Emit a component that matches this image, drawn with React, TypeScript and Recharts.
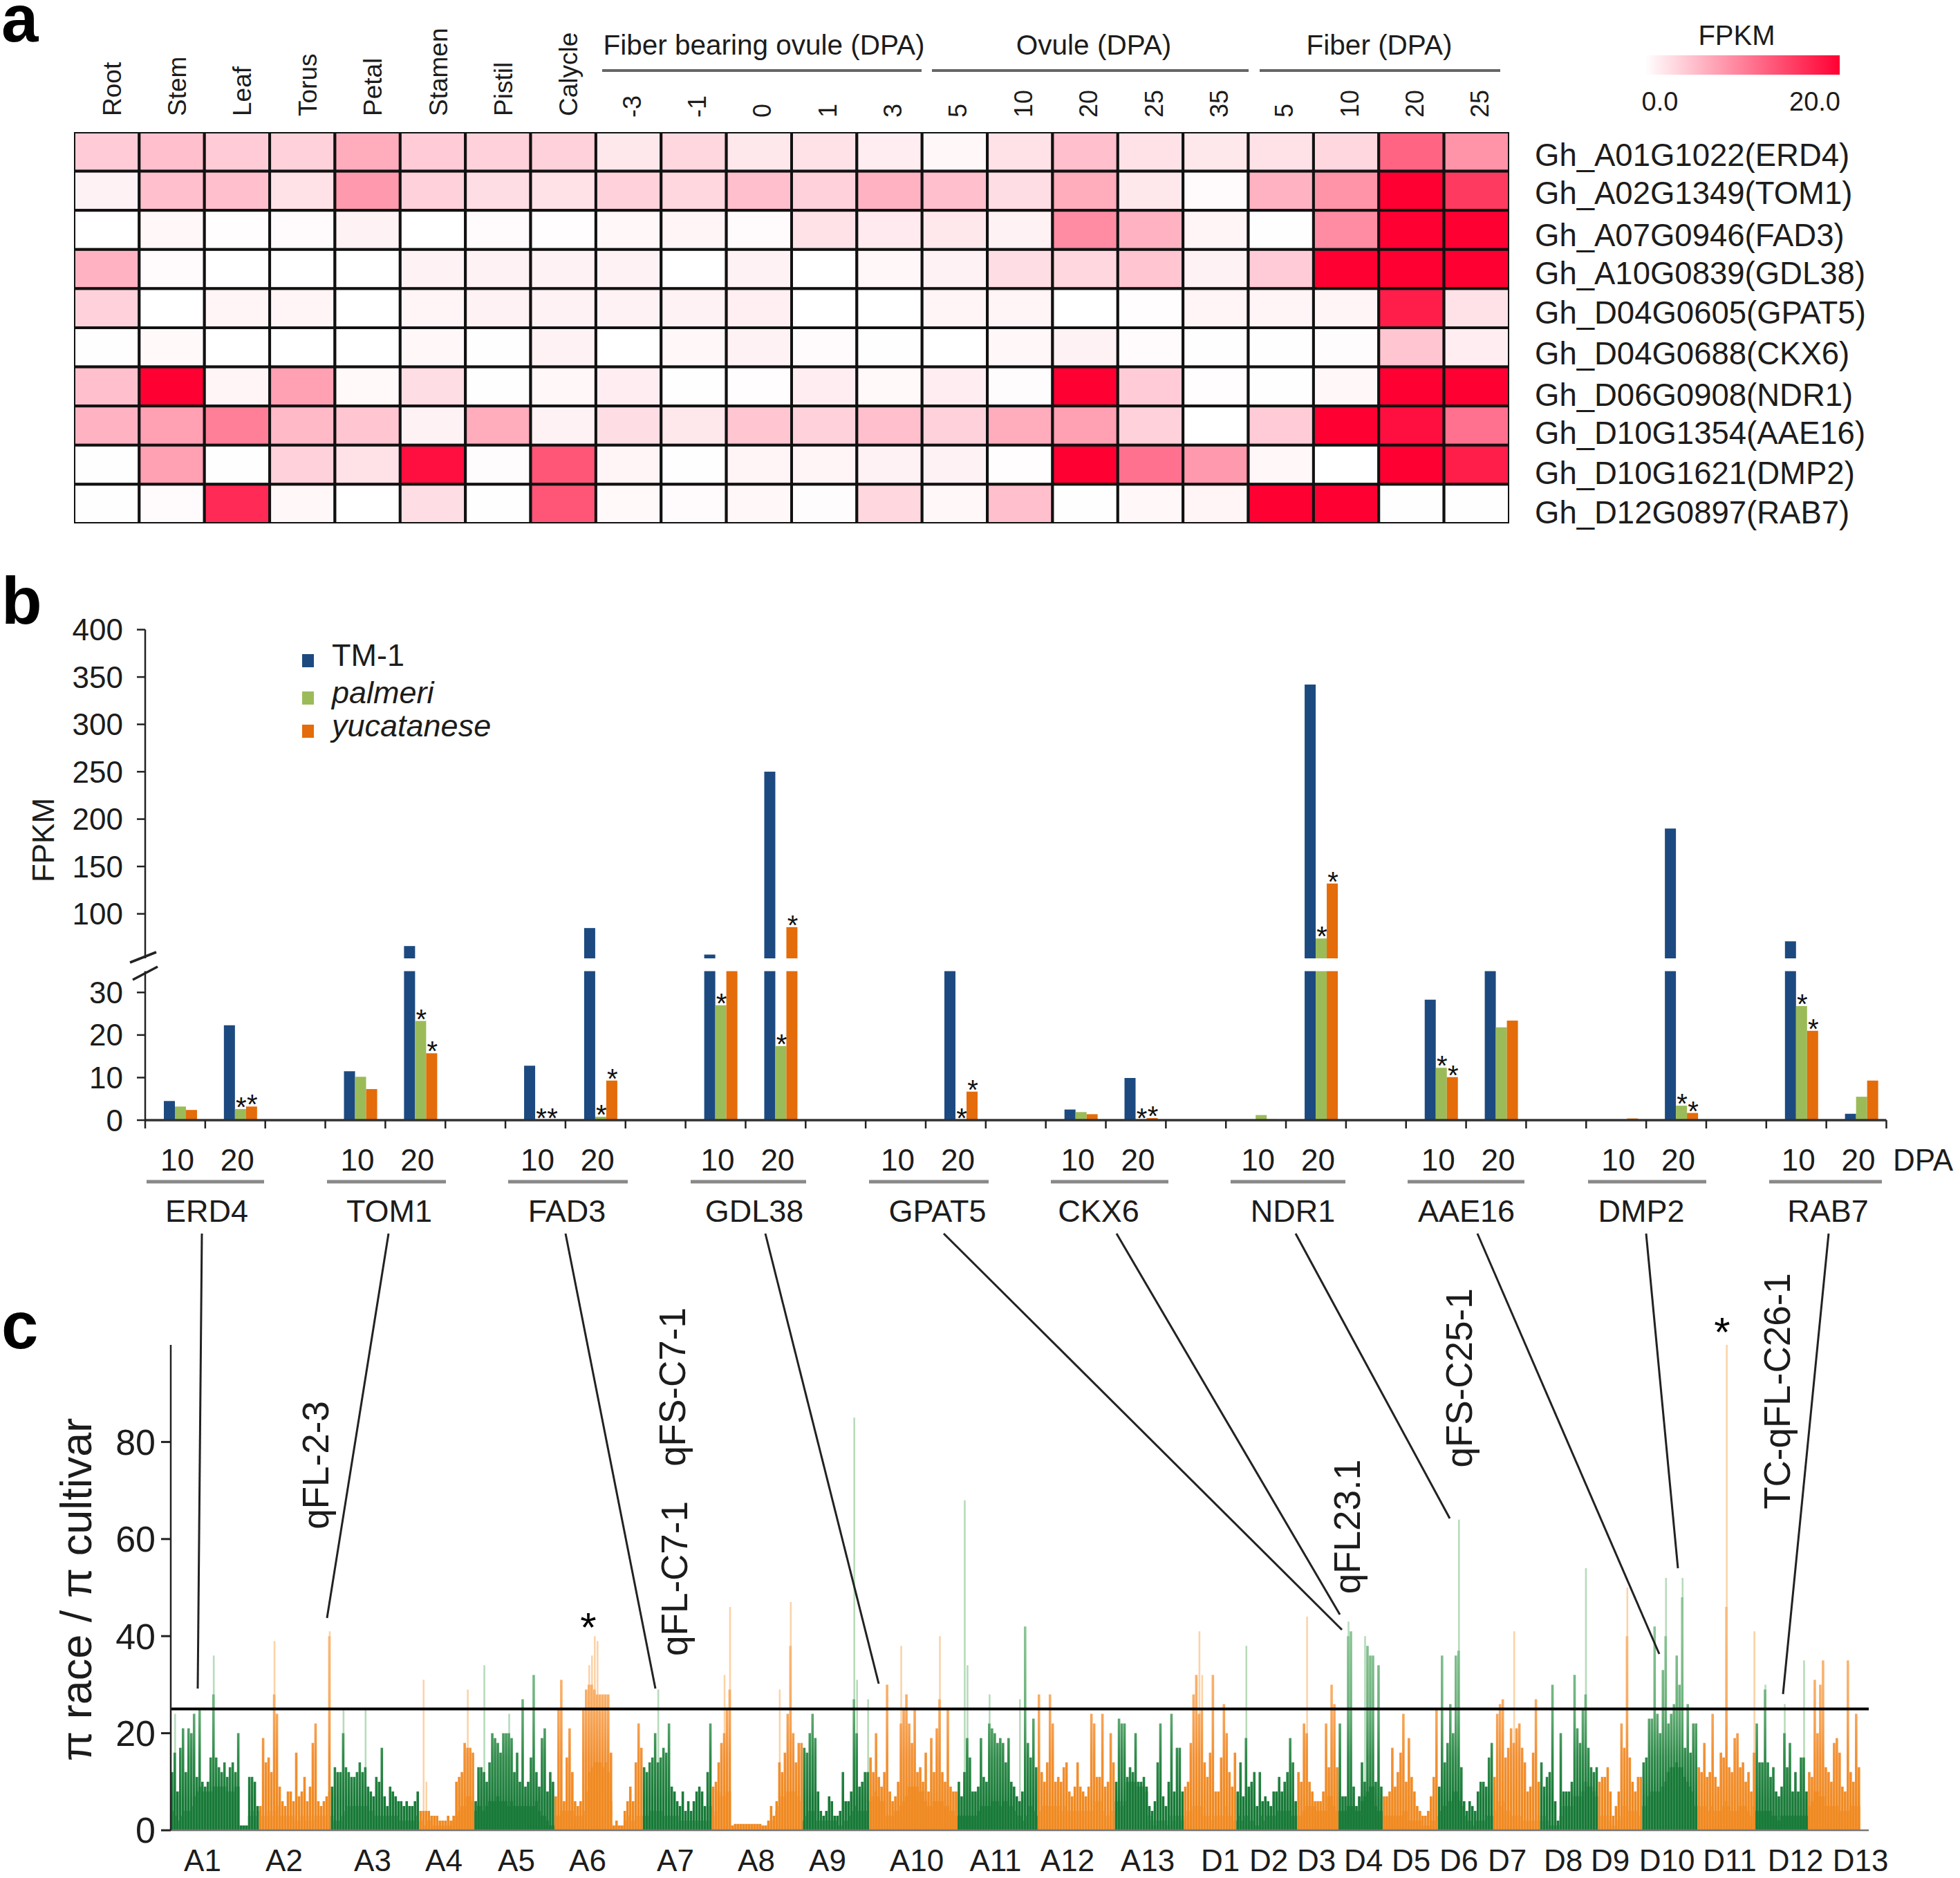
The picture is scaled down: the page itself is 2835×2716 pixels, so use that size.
import {
  Bar,
  BarChart,
  Cell,
  ReferenceLine,
  Scatter,
  ScatterChart,
  XAxis,
  YAxis,
} from "recharts";

const FONT = '"Liberation Sans", Arial, sans-serif';
const INK = "#1c1c1c";

/* ---------- panel a: heatmap ---------- */

const tissues = ["Root", "Stem", "Leaf", "Torus", "Petal", "Stamen", "Pistil", "Calycle"];
const stageLabels = ["-3", "-1", "0", "1", "3", "5", "10", "20", "25", "35", "5", "10", "20", "25"];
const geneIds = [
  "Gh_A01G1022(ERD4)",
  "Gh_A02G1349(TOM1)",
  "Gh_A07G0946(FAD3)",
  "Gh_A10G0839(GDL38)",
  "Gh_D04G0605(GPAT5)",
  "Gh_D04G0688(CKX6)",
  "Gh_D06G0908(NDR1)",
  "Gh_D10G1354(AAE16)",
  "Gh_D10G1621(DMP2)",
  "Gh_D12G0897(RAB7)",
];
const heatERD4 = [5, 6, 5, 4.5, 7.5, 5, 4.5, 4.5, 2.5, 4, 2.5, 3, 2, 1, 3, 6, 3, 2.5, 3, 4, 13, 9.5];
const heatTOM1 = [1.5, 6, 6, 3, 9, 4.5, 3.5, 3, 4.5, 4, 6, 4.5, 7, 6, 3.5, 7.5, 2.5, 0.5, 7, 9.5, 20, 16];
const heatFAD3 = [0, 1, 0.3, 0.7, 1.5, 0, 0.5, 0.3, 1, 1.2, 0.5, 3, 2.2, 2.5, 1.5, 10, 7, 1.2, 0.2, 10, 20, 20];
const heatGDL38 = [7, 0.6, 0, 0, 0, 1.5, 1.5, 1.5, 1.5, 0, 1.5, 0, 1, 1.5, 3.5, 4, 5.5, 1.5, 5, 20, 20, 20];
const heatGPAT5 = [4.5, 0, 1.2, 1.2, 0, 1.2, 1.5, 1.5, 1.5, 1.5, 1.8, 0, 0, 1.2, 1.3, 0, 0.3, 1.3, 1.2, 1.2, 18, 3];
const heatCKX6 = [0.2, 0.8, 0, 0, 0, 1, 0.2, 1.5, 0, 1, 1.5, 0.5, 0.1, 0, 1, 1.5, 0.7, 0.2, 0.2, 0.4, 5.5, 2];
const heatNDR1 = [6, 20, 1.2, 8.5, 0.8, 3.5, 0.2, 1, 2, 0.2, 0.3, 2, 0.8, 2, 0.4, 20, 5, 0.3, 0.1, 1, 20, 20];
const heatAAE16 = [7, 8.5, 11, 6.5, 5.5, 1.5, 7.5, 1.5, 3.5, 2.5, 5.5, 4.5, 6, 4.5, 7.5, 8.5, 4.5, 0, 5, 20, 19, 12];
const heatDMP2 = [0.1, 8.5, 0.1, 4.5, 3, 19, 0.4, 14, 1.3, 0.2, 1.3, 1.3, 1.5, 1.5, 0.3, 20, 12, 9, 1, 0, 20, 18];
const heatRAB7 = [0.1, 0.5, 17, 1, 0, 3.5, 0.2, 14, 0.8, 0.5, 1, 0.4, 4, 1, 6, 0.1, 1, 1.3, 20, 20, 0.1, 0.1];
const heatRows = [heatERD4, heatTOM1, heatFAD3, heatGDL38, heatGPAT5, heatCKX6, heatNDR1, heatAAE16, heatDMP2, heatRAB7];

const heatCells = heatRows.flatMap((row, r) =>
  row.map((fpkm, c) => ({ col: c + 0.5, row: r + 0.5, fpkm }))
);

function heatColor(v: number) {
  const t = Math.pow(Math.min(v, 20) / 20, 1.15);
  return `rgb(255,${Math.round(255 * (1 - t))},${Math.round(255 - 204 * t)})`;
}

const CELL_W = 2076 / 22;
const CELL_H = 566 / 10;

function HeatCell(props: any) {
  return (
    <rect
      x={props.cx - CELL_W / 2}
      y={props.cy - CELL_H / 2}
      width={CELL_W}
      height={CELL_H}
      fill={heatColor(props.payload.fpkm)}
      stroke="#111"
      strokeWidth={4}
    />
  );
}

function Heatmap() {
  return (
    <div style={{ position: "absolute", left: 107, top: 191 }}>
      <ScatterChart width={2076} height={566} margin={{ top: 0, right: 0, bottom: 0, left: 0 }} style={{ overflow: "visible" }}>
        <XAxis type="number" dataKey="col" domain={[0, 22]} hide />
        <YAxis type="number" dataKey="row" domain={[0, 10]} reversed hide />
        <Scatter data={heatCells} shape={HeatCell} isAnimationActive={false} />
      </ScatterChart>
    </div>
  );
}

/* ---------- panel b: broken-axis bars ---------- */

const genes = ["ERD4", "TOM1", "FAD3", "GDL38", "GPAT5", "CKX6", "NDR1", "AAE16", "DMP2", "RAB7"];
const dpaTicks = ["10", "20", "", "10", "20", "", "10", "20", "", "10", "20", "", "10", "20", "", "10", "20", "", "10", "20", "", "10", "20", "", "10", "20", "", "10", "20"];
const tm1 = [4.5, 22.3, 0, 11.5, 66, 0, 12.8, 85, 0, 57, 250, 0, 0, 40, 0, 2.5, 9.9, 0, 0, 342, 0, 28.3, 40, 0, 0, 190, 0, 71, 1.5];
const palmeri = [3.2, 2.6, 0, 10.2, 23.3, 0, 0.05, 0.8, 0, 27, 17.4, 0, 0, 0.05, 0, 1.9, 0.05, 0, 1.2, 74, 0, 12.3, 21.8, 0, 0, 3.4, 0, 26.8, 5.5];
const yucatanese = [2.4, 3.2, 0, 7.3, 15.7, 0, 0.05, 9.3, 0, 40, 86, 0, 0, 6.7, 0, 1.4, 0.5, 0, 0.2, 132, 0, 10.1, 23.4, 0, 0.4, 1.7, 0, 21, 9.3];
const palmeriStars = [1, 4, 6, 7, 9, 10, 13, 16, 19, 21, 25, 27];
const yucatStars = [1, 4, 6, 7, 10, 13, 16, 19, 21, 25, 27];

const BREAK_TOP = 53;
const BREAK_LOW = 35;

const lowerData = dpaTicks.map((_, i) => ({
  id: i,
  pad: 0,
  tm1: tm1[i],
  palmeri: palmeri[i],
  yucatanese: yucatanese[i],
}));
const upperData = dpaTicks.map((_, i) => ({
  id: i,
  pad: 0,
  tm1: tm1[i] > BREAK_TOP ? tm1[i] : null,
  palmeri: palmeri[i] > BREAK_TOP ? palmeri[i] : null,
  yucatanese: yucatanese[i] > BREAK_TOP ? yucatanese[i] : null,
}));

const PLOT_LEFT = 210;
const BAND = 2518.5 / 29;
const LOWER_TOP = 1390;
const AXIS_Y = 1620 - LOWER_TOP;

function DpaTick(props: any) {
  const i = props.payload.index;
  return (
    <g>
      <line x1={props.x - BAND / 2} x2={props.x - BAND / 2} y1={AXIS_Y} y2={AXIS_Y + 12} stroke="#222" strokeWidth={2.5} />
      {i === dpaTicks.length - 1 && (
        <line x1={props.x + BAND / 2} x2={props.x + BAND / 2} y1={AXIS_Y} y2={AXIS_Y + 12} stroke="#222" strokeWidth={2.5} />
      )}
      <text x={props.x + 3} y={AXIS_Y + 73} textAnchor="middle" fontSize={44} fontFamily={FONT} fill={INK}>
        {dpaTicks[i]}
      </text>
    </g>
  );
}

// zero-height bars drop out of the label index, so the category comes from x
function starLabel(stars: number[], upper: boolean) {
  return (props: any) => {
    const { x, y, width, value } = props;
    const cat = Math.floor((x - PLOT_LEFT) / BAND);
    if (value == null || !stars.includes(cat)) return <g />;
    if (!upper && value > BREAK_LOW) return <g />;
    return (
      <text x={x + width / 2 + 1} y={y + 11} textAnchor="middle" fontSize={40} fontFamily={FONT} fill="#111">
        *
      </text>
    );
  };
}

const BLUE = "#1c4a80";
const GREEN = "#9bbb59";
const ORANGE = "#e46c0a";

function FpkmUpper() {
  return (
    <div style={{ position: "absolute", left: 0, top: 880 }}>
      <BarChart width={2835} height={506} data={upperData} barSize={16} barGap={0} margin={{ top: 30.6, right: 106.5, bottom: 0, left: 0 }}>
        <XAxis dataKey="id" hide />
        <YAxis
          width={PLOT_LEFT}
          domain={[BREAK_TOP, 400]}
          ticks={[100, 150, 200, 250, 300, 350, 400]}
          allowDataOverflow
          interval={0}
          tick={{ fontSize: 44, fill: INK, fontFamily: FONT }}
          tickSize={12}
          tickMargin={20}
          axisLine={{ stroke: "#222", strokeWidth: 2.5 }}
          tickLine={{ stroke: "#222", strokeWidth: 2.5 }}
        />
        <Bar dataKey="pad" fill="none" isAnimationActive={false} />
        <Bar dataKey="tm1" fill={BLUE} isAnimationActive={false} />
        <Bar dataKey="palmeri" fill={GREEN} isAnimationActive={false} label={starLabel(palmeriStars, true)} />
        <Bar dataKey="yucatanese" fill={ORANGE} isAnimationActive={false} label={starLabel(yucatStars, true)} />
      </BarChart>
    </div>
  );
}

function FpkmLower() {
  return (
    <div style={{ position: "absolute", left: 0, top: LOWER_TOP }}>
      <BarChart width={2835} height={330} data={lowerData} barSize={16} barGap={0} margin={{ top: 14.5, right: 106.5, bottom: 0, left: 0 }}>
        <XAxis
          dataKey="id"
          height={100}
          interval={0}
          tick={DpaTick}
          tickLine={false}
          axisLine={{ stroke: "#333", strokeWidth: 3.5 }}
        />
        <YAxis
          width={PLOT_LEFT}
          domain={[0, BREAK_LOW]}
          ticks={[0, 10, 20, 30]}
          allowDataOverflow
          interval={0}
          tick={{ fontSize: 44, fill: INK, fontFamily: FONT }}
          tickSize={12}
          tickMargin={20}
          axisLine={{ stroke: "#222", strokeWidth: 2.5 }}
          tickLine={{ stroke: "#222", strokeWidth: 2.5 }}
        />
        <Bar dataKey="pad" fill="none" isAnimationActive={false} />
        <Bar dataKey="tm1" fill={BLUE} isAnimationActive={false} />
        <Bar dataKey="palmeri" fill={GREEN} isAnimationActive={false} label={starLabel(palmeriStars, false)} />
        <Bar dataKey="yucatanese" fill={ORANGE} isAnimationActive={false} label={starLabel(yucatStars, false)} />
      </BarChart>
    </div>
  );
}

/* ---------- panel c: pi ratio per window ---------- */

// core = solid part of the window, mid = darker spike, peak = pale tall spike [bin, value]
const coreA1 = [4, 3, 2, 3, 4, 4, 4, 5, 7, 8, 9, 8, 8, 8, 8, 9, 9, 9, 9, 9, 8, 8, 8, 9, 9, 1, 1, 1, 3, 4, 3, 4];
const midA1 = [12, 16, 8, 17, 21, 12, 21, 20, 24, 11, 25, 10, 9, 10, 15, 28, 15, 13, 12, 14, 11, 13, 14, 12, 20, 1, 1, 1, 11, 11, 10, 5];
const peakA1 = [[1, 24], [15, 36]];
const coreA2 = [3, 3, 3, 4, 3, 4, 5, 3, 3, 3, 3, 3, 3, 2, 2, 3, 3, 2, 3, 2, 3, 3, 3, 3, 3, 8];
const midA2 = [5, 19, 14, 15, 12, 28, 24, 9, 6, 5, 8, 8, 6, 16, 7, 8, 11, 6, 9, 18, 22, 6, 5, 6, 7, 40];
const peakA2 = [[5, 39], [25, 41]];
const coreA3 = [3, 2, 2, 2, 3, 4, 5, 5, 5, 5, 5, 5, 5, 5, 4, 4, 3, 3, 3, 3, 3, 3, 3, 3, 3, 2, 2, 2, 2, 2, 2, 3];
const midA3 = [9, 13, 12, 12, 20, 13, 12, 11, 11, 12, 14, 12, 13, 9, 8, 7, 11, 10, 17, 7, 5, 9, 8, 7, 6, 6, 5, 6, 5, 5, 6, 8];
const peakA3 = [[4, 25], [12, 25]];
const coreA4 = [2, 2, 1, 2, 2, 1, 1, 1, 1, 1, 1, 1, 2, 3, 4, 5, 5, 7, 7, 6];
const midA4 = [4, 4, 4, 4, 3, 3, 3, 2, 2, 2, 3, 2, 3, 10, 11, 12, 18, 17, 17, 16];
const peakA4 = [[1, 31], [2, 10], [17, 29]];
const coreA5 = [4, 5, 5, 4, 5, 6, 6, 6, 7, 6, 6, 6, 5, 6, 5, 5, 5, 5, 5, 5, 5, 5, 6, 4, 3, 3, 2, 1, 1];
const midA5 = [6, 13, 13, 12, 10, 14, 20, 19, 18, 16, 20, 20, 20, 19, 12, 16, 10, 27, 9, 10, 15, 32, 12, 9, 19, 21, 8, 12, 10];
const peakA5 = [[3, 34], [12, 24]];
const coreA6 = [3, 3, 4, 4, 4, 4, 4, 3, 3, 3, 4, 8, 12, 13, 14, 14, 14, 13, 14, 12, 6, 1, 1, 1, 1, 2, 3, 2, 2, 3, 3, 3];
const midA6 = [7, 25, 31, 6, 15, 21, 12, 6, 5, 6, 25, 29, 30, 30, 29, 28, 28, 28, 28, 28, 16, 1, 2, 1, 1, 4, 6, 9, 6, 14, 22, 17];
const peakA6 = [[12, 34], [13, 36], [14, 40], [15, 39]];
const coreA7 = [3, 3, 4, 4, 4, 4, 4, 3, 3, 3, 3, 3, 3, 2, 2, 2, 2, 2, 2, 2, 2, 2, 2, 2, 5];
const midA7 = [13, 12, 14, 15, 20, 14, 15, 17, 16, 22, 9, 8, 6, 5, 8, 4, 6, 4, 6, 8, 9, 8, 5, 12, 22];
const peakA7 = [[5, 29]];
const coreA8 = [3, 4, 8, 7, 7, 8, 8, 1, 1.3, 1.3, 1.3, 1.3, 1.3, 1.3, 1.3, 1.3, 1.3, 1.3, 1, 1, 1, 2, 2, 4, 5, 7, 7, 8, 8, 8, 8, 7, 6];
const midA8 = [9, 10, 14, 18, 20, 25, 29, 1, 1.3, 1.3, 1.3, 1.3, 1.3, 1.3, 1.3, 1.3, 1.3, 1.3, 1, 1, 2, 5, 3, 6, 14, 12, 16, 24, 38, 20, 14, 18, 18];
const peakA8 = [[4, 32], [6, 46], [24, 29], [28, 47]];
const coreA9 = [2, 3, 4, 4, 4, 2, 2, 2, 2, 2, 2, 2, 2, 1, 1, 2, 2, 3, 4, 5, 4, 4, 4, 4];
const midA9 = [17, 16, 20, 24, 19, 8, 4, 3, 4, 7, 6, 3, 3, 4, 12, 6, 6, 8, 27, 20, 9, 10, 12, 12];
const peakA9 = [[18, 85], [19, 31], [23, 27]];
const coreA10 = [6, 7, 8, 7, 6, 6, 3, 3, 3, 4, 4, 5, 6, 7, 9, 9, 9, 9, 8, 8, 6, 5, 5, 6, 6, 6, 6, 5, 5, 4, 4, 3];
const midA10 = [15, 12, 20, 11, 9, 12, 30, 8, 6, 7, 10, 22, 25, 28, 22, 18, 25, 12, 13, 10, 16, 8, 19, 12, 21, 27, 12, 10, 25, 9, 8, 8];
const peakA10 = [[11, 38], [25, 40]];
const coreA11 = [3, 3, 3, 3, 3, 3, 3, 4, 5, 5, 5, 5, 6, 6, 6, 5, 6, 6, 5, 5, 4, 3, 3, 2, 3, 5, 5, 4, 3];
const midA11 = [10, 7, 12, 19, 15, 8, 8, 9, 19, 11, 10, 22, 21, 20, 18, 19, 18, 14, 19, 10, 9, 7, 6, 8, 42, 18, 15, 23, 13];
const peakA11 = [[2, 68], [3, 34], [11, 28], [22, 27]];
const coreA12 = [4, 5, 5, 5, 5, 5, 5, 5, 4, 5, 4, 4, 4, 4, 4, 4, 4, 4, 4, 4, 6, 6, 6, 4, 3, 3, 4, 4];
const midA12 = [28, 12, 10, 14, 28, 22, 10, 11, 10, 13, 14, 8, 7, 9, 14, 9, 8, 7, 9, 24, 22, 11, 11, 24, 9, 10, 20, 14];
const peakA12: number[][] = [];
const coreA13 = [6, 6, 5, 6, 10, 10, 10, 10, 9, 9, 9, 8, 3, 2, 1, 2, 2, 2, 2, 1, 3, 2, 3, 3, 2];
const midA13 = [10, 23, 22, 22, 11, 13, 12, 20, 10, 10, 11, 9, 5, 4, 6, 14, 22, 7, 5, 10, 24, 8, 17, 17, 8];
const peakA13: number[][] = [];
const coreD1 = [3, 4, 4, 5, 5, 5, 5, 3, 3, 3, 2, 3, 3, 3, 3, 5, 3, 3, 2];
const midD1 = [9, 10, 18, 28, 32, 24, 25, 14, 11, 16, 32, 8, 8, 15, 26, 20, 12, 9, 16];
const peakD1 = [[5, 41], [6, 32]];
const coreD2 = [2, 3, 2, 3, 3, 2, 2, 1, 1, 3, 2, 3, 3, 3, 3, 4, 4, 4, 4, 4, 3, 3];
const midD2 = [8, 14, 7, 19, 9, 10, 12, 5, 12, 6, 7, 6, 5, 8, 8, 11, 8, 10, 12, 19, 14, 6];
const peakD2 = [[3, 38]];
const coreD3 = [3, 3, 4, 5, 5, 5, 5, 4, 4, 4, 4, 7, 7, 5, 4];
const midD3 = [12, 10, 22, 20, 10, 8, 6, 6, 6, 8, 22, 13, 30, 26, 13];
const peakD3 = [[3, 44]];
const coreD4 = [4, 4, 4, 5, 5, 5, 4, 4, 6, 7, 8, 9, 9, 5, 4, 4];
const midD4 = [22, 7, 7, 40, 41, 9, 5, 7, 14, 10, 38, 36, 36, 10, 34, 9];
const peakD4 = [[3, 43], [9, 40]];
const coreD5 = [3, 3, 3, 3, 3, 3, 3, 4, 4, 2, 2, 2, 2, 2, 1, 1, 1, 2, 2, 3];
const midD5 = [7, 7, 8, 17, 9, 12, 16, 24, 10, 19, 11, 8, 5, 4, 3, 3, 4, 7, 11, 25];
const peakD5: number[][] = [];
const coreD6 = [4, 5, 5, 6, 6, 8, 8, 6, 5, 3, 2, 2, 1, 2, 2, 2, 2, 3, 3, 3];
const midD6 = [9, 36, 14, 18, 26, 20, 36, 37, 13, 6, 4, 6, 5, 4, 8, 10, 10, 9, 15, 18];
const peakD6 = [[7, 64]];
const coreD7 = [4, 6, 5, 6, 4, 4, 3, 3, 3, 3, 2, 2, 2, 2, 2, 2, 3];
const midD7 = [11, 24, 26, 27, 15, 17, 21, 18, 21, 22, 17, 14, 8, 9, 16, 27, 10];
const peakD7 = [[7, 41]];
const coreD8 = [2, 3, 2, 1, 1, 1, 1, 3, 5, 5, 5, 5, 7, 7, 7, 8, 10, 9, 9, 8, 7];
const midD8 = [14, 9, 11, 12, 30, 6, 2, 20, 8, 8, 8, 10, 32, 21, 18, 25, 28, 17, 13, 12, 13];
const peakD8 = [[16, 54]];
const coreD9 = [3, 3, 3, 3, 2, 1, 1, 2, 3, 5, 5, 4, 4, 4, 4, 3];
const midD9 = [10, 11, 11, 13, 8, 3, 5, 8, 22, 17, 40, 15, 10, 8, 11, 11];
const peakD9 = [[10, 50]];
const coreD10 = [5, 5, 7, 8, 8, 8, 8, 9, 10, 12, 13, 13, 14, 13, 13, 11, 10, 9, 8, 5];
const midD10 = [14, 15, 23, 23, 42, 24, 20, 33, 40, 22, 24, 26, 36, 30, 48, 17, 26, 16, 22, 22];
const peakD10 = [[8, 52], [14, 52]];
const coreD11 = [5, 5, 5, 5, 4, 5, 4, 4, 4, 5, 6, 5, 4, 4, 4, 5, 5, 5, 4, 3, 5];
const midD11 = [13, 12, 18, 11, 12, 24, 11, 9, 16, 15, 46, 13, 12, 19, 20, 13, 14, 10, 12, 8, 16];
const peakD11 = [[10, 100], [20, 41]];
const coreD12 = [4, 4, 4, 4, 4, 4, 3, 3, 2, 3, 3, 3, 3, 3, 3, 3, 3, 3, 3];
const midD12 = [22, 14, 14, 29, 14, 11, 13, 8, 7, 9, 20, 13, 18, 8, 12, 8, 15, 15, 8];
const peakD12 = [[3, 30], [10, 26], [17, 35]];
const coreD13 = [5, 6, 8, 8, 7, 7, 5, 5, 5, 5, 5, 4, 4, 4, 4, 5, 5, 5, 5];
const midD13 = [12, 11, 31, 20, 30, 35, 13, 12, 10, 18, 19, 16, 9, 8, 35, 12, 10, 24, 13];
const peakD13: number[][] = [];

const chromCore = [coreA1, coreA2, coreA3, coreA4, coreA5, coreA6, coreA7, coreA8, coreA9, coreA10, coreA11, coreA12, coreA13, coreD1, coreD2, coreD3, coreD4, coreD5, coreD6, coreD7, coreD8, coreD9, coreD10, coreD11, coreD12, coreD13];
const chromMid = [midA1, midA2, midA3, midA4, midA5, midA6, midA7, midA8, midA9, midA10, midA11, midA12, midA13, midD1, midD2, midD3, midD4, midD5, midD6, midD7, midD8, midD9, midD10, midD11, midD12, midD13];
const chromPeak = [peakA1, peakA2, peakA3, peakA4, peakA5, peakA6, peakA7, peakA8, peakA9, peakA10, peakA11, peakA12, peakA13, peakD1, peakD2, peakD3, peakD4, peakD5, peakD6, peakD7, peakD8, peakD9, peakD10, peakD11, peakD12, peakD13];

const chromLabels = ["A1", "A2", "A3", "A4", "A5", "A6", "A7", "A8", "A9", "A10", "A11", "A12", "A13", "D1", "D2", "D3", "D4", "D5", "D6", "D7", "D8", "D9", "D10", "D11", "D12", "D13"];
const chromLabelX = [293, 411, 539, 642, 747, 850, 977, 1094, 1197, 1326, 1440, 1544, 1660, 1765, 1835, 1904, 1972, 2041, 2110, 2180, 2261, 2329, 2411, 2502, 2597, 2691];

const TAIL_BINS = 3;
const THRESHOLD = 25;

const piRows: { bin: number; chrom: number; core: number; mid: number; peak: number | null }[] = [];
chromCore.forEach((core, c) => {
  core.forEach((v, i) => {
    const hit = chromPeak[c].find((p) => p[0] === i);
    piRows.push({ bin: piRows.length, chrom: c, core: v, mid: chromMid[c][i], peak: hit ? hit[1] : null });
  });
});
for (let i = 0; i < TAIL_BINS; i++) {
  piRows.push({ bin: piRows.length, chrom: 0, core: 0, mid: 0, peak: null });
}

const coreFill = ["#187a38", "#f08a22"];
const midFill = ["url(#greenRamp)", "url(#orangeRamp)"];
const peakFill = ["#b7dbbb", "#fbd3a8"];

// gradient runs in the chart's own pixels: value 42 at the top, value 6 at the bottom
const RAMP_TOP = 10 + 58 * 7.017;
const RAMP_BOTTOM = 10 + 94 * 7.017;

function PiChart() {
  return (
    <div style={{ position: "absolute", left: 0, top: 1935 }}>
      <BarChart
        width={2703}
        height={752}
        data={piRows}
        barCategoryGap={0}
        barGap={0}
        margin={{ top: 10, right: 0, bottom: 40, left: 0 }}
      >
        <defs>
          <linearGradient id="greenRamp" gradientUnits="userSpaceOnUse" x1="0" x2="0" y1={RAMP_TOP} y2={RAMP_BOTTOM}>
            <stop offset="0" stopColor="#8cc697" />
            <stop offset="0.45" stopColor="#6cb27c" />
            <stop offset="0.75" stopColor="#2f8a4a" />
            <stop offset="1" stopColor="#187a38" />
          </linearGradient>
          <linearGradient id="orangeRamp" gradientUnits="userSpaceOnUse" x1="0" x2="0" y1={RAMP_TOP} y2={RAMP_BOTTOM}>
            <stop offset="0" stopColor="#f9bb7c" />
            <stop offset="0.45" stopColor="#f8ab62" />
            <stop offset="0.75" stopColor="#f29034" />
            <stop offset="1" stopColor="#f08a22" />
          </linearGradient>
        </defs>
        <XAxis xAxisId="core" dataKey="bin" hide />
        <XAxis xAxisId="mid" dataKey="bin" hide />
        <XAxis xAxisId="peak" dataKey="bin" hide />
        <YAxis
          width={247}
          domain={[0, 100]}
          ticks={[0, 20, 40, 60, 80]}
          interval={0}
          tick={{ fontSize: 52, fill: INK, fontFamily: FONT }}
          tickSize={14}
          tickMargin={8}
          axisLine={{ stroke: "#222", strokeWidth: 2.5 }}
          tickLine={{ stroke: "#222", strokeWidth: 3 }}
        />
        <Bar xAxisId="peak" dataKey="peak" barSize={2.6} isAnimationActive={false}>
          {piRows.map((r) => (
            <Cell key={r.bin} fill={peakFill[r.chrom % 2]} />
          ))}
        </Bar>
        <Bar xAxisId="mid" dataKey="mid" barSize={3.6} isAnimationActive={false}>
          {piRows.map((r) => (
            <Cell key={r.bin} fill={midFill[r.chrom % 2]} />
          ))}
        </Bar>
        <Bar xAxisId="core" dataKey="core" barSize={4.2} isAnimationActive={false}>
          {piRows.map((r) => (
            <Cell key={r.bin} fill={coreFill[r.chrom % 2]} />
          ))}
        </Bar>
        <ReferenceLine xAxisId="core" y={THRESHOLD} stroke="#000" strokeWidth={4} />
        <ReferenceLine xAxisId="core" y={0} stroke="#777" strokeWidth={2.5} />
      </BarChart>
    </div>
  );
}

/* ---------- surrounding text and leader lines ---------- */

const geneLabelX = [299, 563, 820, 1091, 1356, 1589, 1870, 2121, 2374, 2644];
const geneBars = [[212, 382], [473, 645], [735, 908], [999, 1166], [1257, 1430], [1520, 1690], [1780, 1946], [2036, 2205], [2297, 2468], [2559, 2722]];
const leaders = [
  [292, 286, 2442],
  [562, 473, 2340],
  [818, 948, 2442],
  [1107, 1271, 2435],
  [1365, 1941, 2357],
  [1615, 1938, 2335],
  [1874, 2097, 2196],
  [2137, 2400, 2392],
  [2381, 2427, 2268],
  [2645, 2579, 2450],
];
const qtlLabels = ["qFL-2-3", "qFS-C7-1", "qFL-C7-1", "qFL23.1", "qFS-C25-1", "TC-qFL-C26-1"];
const qtlX = [456, 972, 975, 1948, 2110, 2570];
const qtlY = [2119, 2006, 2283, 2208, 1993, 2012];
const rowLabelY = [224, 279, 340, 395, 452, 511, 571, 626, 684, 741];
const legendNames = ["TM-1", "palmeri", "yucatanese"];
const legendFills = [BLUE, GREEN, ORANGE];
const legendY = [947, 1001, 1049];

function vertical(x: number, y: number, label: string, size: number, anchor = "middle", key?: string) {
  return (
    <text
      key={key ?? label + x}
      transform={`translate(${x},${y}) rotate(-90)`}
      textAnchor={anchor as any}
      dominantBaseline="central"
      fontSize={size}
      fontFamily={FONT}
      fill={INK}
    >
      {label}
    </text>
  );
}

function Overlay() {
  const groups = [
    { text: "Fiber bearing ovule (DPA)", x: 1105, from: 871, to: 1333 },
    { text: "Ovule (DPA)", x: 1582, from: 1348, to: 1806 },
    { text: "Fiber (DPA)", x: 1995, from: 1822, to: 2170 },
  ];
  const colX = (c: number) => 107 + CELL_W * (c + 0.5);
  return (
    <svg width={2835} height={2716} style={{ position: "absolute", left: 0, top: 0, pointerEvents: "none" }}>
      <defs>
        <linearGradient id="fpkmRamp" x1="0" x2="1" y1="0" y2="0">
          <stop offset="0" stopColor="#ffffff" />
          <stop offset="1" stopColor="#ff0033" />
        </linearGradient>
      </defs>

      <g fontFamily={FONT} fontWeight={700} fontSize={96} fill="#000">
        <text x={2} y={60}>a</text>
        <text x={2} y={902}>b</text>
        <text x={2} y={1950}>c</text>
      </g>

      {tissues.map((t, c) => vertical(colX(c) + 8, 168, t, 37, "start"))}
      {stageLabels.map((t, c) => vertical(colX(c + 8) + 5, 170, t, 36, "start", `stage${c}`))}
      {groups.map((g) => (
        <g key={g.text}>
          <text x={g.x} y={79} textAnchor="middle" fontSize={40.5} fontFamily={FONT} fill={INK}>{g.text}</text>
          <line x1={g.from} x2={g.to} y1={102} y2={102} stroke="#666" strokeWidth={4} />
        </g>
      ))}

      <text x={2512} y={65} textAnchor="middle" fontSize={40} fontFamily={FONT} fill={INK}>FPKM</text>
      <rect x={2379} y={80} width={282} height={28} fill="url(#fpkmRamp)" />
      <text x={2401} y={160} textAnchor="middle" fontSize={38} fontFamily={FONT} fill={INK}>0.0</text>
      <text x={2625} y={160} textAnchor="middle" fontSize={38} fontFamily={FONT} fill={INK}>20.0</text>

      {geneIds.map((g, i) => (
        <text key={g} x={2220} y={rowLabelY[i]} dominantBaseline="central" fontSize={45.5} fontFamily={FONT} fill={INK}>{g}</text>
      ))}

      {vertical(62, 1215, "FPKM", 44)}
      <line x1={188} y1={1392} x2={226} y2={1377} stroke="#222" strokeWidth={3.5} />
      <line x1={192} y1={1417} x2={228} y2={1398} stroke="#222" strokeWidth={3.5} />
      {legendNames.map((n, i) => (
        <g key={n}>
          <rect x={437} y={legendY[i] - 1} width={17} height={19} fill={legendFills[i]} />
          <text x={480} y={legendY[i]} dominantBaseline="central" fontSize={45} fontStyle={i ? "italic" : "normal"} fontFamily={FONT} fill={INK}>{n}</text>
        </g>
      ))}
      <text x={2738} y={1677} dominantBaseline="central" fontSize={44} fontFamily={FONT} fill={INK}>DPA</text>
      {genes.map((g, i) => (
        <g key={g}>
          <line x1={geneBars[i][0]} x2={geneBars[i][1]} y1={1709} y2={1709} stroke="#888" strokeWidth={5} />
          <text x={geneLabelX[i]} y={1751} dominantBaseline="central" textAnchor="middle" fontSize={45} fontFamily={FONT} fill={INK}>{g}</text>
        </g>
      ))}

      {leaders.map((l, i) => (
        <line key={i} x1={l[0]} y1={1784} x2={l[1]} y2={l[2]} stroke="#222" strokeWidth={3} />
      ))}
      {qtlLabels.map((q, i) => vertical(qtlX[i], qtlY[i], q, 53))}
      {vertical(110, 2299, "π race / π cultivar", 63)}
      <text x={851} y={2374} textAnchor="middle" fontSize={60} fontFamily={FONT} fill="#000">*</text>
      <text x={2491} y={1947} textAnchor="middle" fontSize={60} fontFamily={FONT} fill="#000">*</text>
      {chromLabels.map((c, i) => (
        <text key={c} x={chromLabelX[i]} y={2690} dominantBaseline="central" textAnchor="middle" fontSize={44} fontFamily={FONT} fill={INK}>{c}</text>
      ))}
    </svg>
  );
}

export default function App() {
  return (
    <div style={{ position: "absolute", left: 0, top: 0, width: 2835, height: 2716, background: "#fff", overflow: "hidden" }}>
      <Heatmap />
      <FpkmUpper />
      <FpkmLower />
      <PiChart />
      <Overlay />
    </div>
  );
}
